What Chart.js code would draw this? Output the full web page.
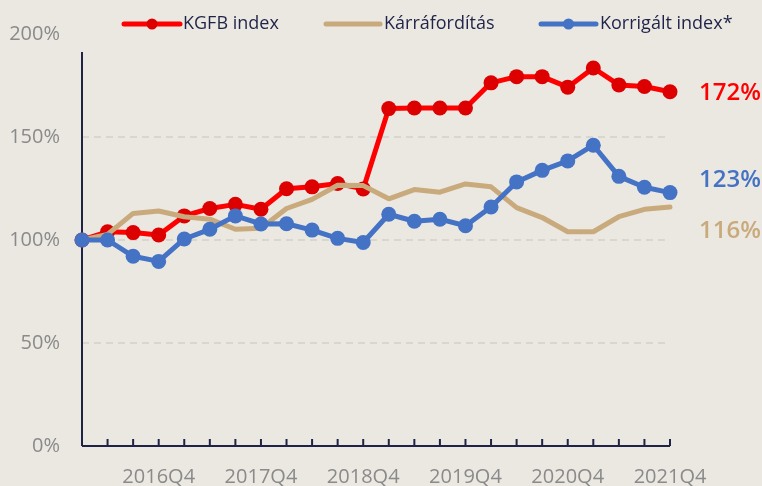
<!DOCTYPE html>
<html>
<head>
<meta charset="utf-8">
<script src="https://cdn.jsdelivr.net/npm/chart.js@4.4.1/dist/chart.umd.min.js"></script>
<style>
  html, body { margin: 0; padding: 0; background: #ebe8e2; }
  #wrap { width: 762px; height: 486px; }
</style>
</head>
<body>
<div id="wrap"><canvas id="chart" width="762" height="486"></canvas></div>
<script>
// quarters on the x axis
const quarters = [
    '2016Q1', '2016Q2', '2016Q3', '2016Q4',
    '2017Q1', '2017Q2', '2017Q3', '2017Q4',
    '2018Q1', '2018Q2', '2018Q3', '2018Q4',
    '2019Q1', '2019Q2', '2019Q3', '2019Q4',
    '2020Q1', '2020Q2', '2020Q3', '2020Q4',
    '2021Q1', '2021Q2', '2021Q3', '2021Q4'
];

// series values, in percent
const kgfbIndex = [100, 104, 103.6, 102.4, 111.7, 115.3, 117.3, 114.9, 124.9, 125.8, 127.4, 124.8,
                   163.8, 164.1, 164.1, 164.1, 176.3, 179.3, 179.3, 174.2, 183.5, 175.3, 174.5, 172];
const karraforditas = [100, 102.7, 112.9, 114.1, 111.3, 110.1, 105.2, 105.7, 115.3, 119.7, 126.6, 126.4,
                       120, 124.5, 123.2, 127.2, 125.8, 115.7, 110.9, 104, 104, 111.3, 114.9, 116];
const korrigaltIndex = [100, 100, 92.1, 89.6, 100.5, 105.2, 111.7, 107.8, 107.9, 104.8, 100.8, 98.8,
                        112.5, 109.1, 110.1, 106.9, 116, 128.2, 133.8, 138.4, 146, 130.9, 125.6, 123];

// y axis ticks
const yTicks = [0, 50, 100, 150, 200];
// which x labels are shown
const shownQuarters = ['2016Q4', '2017Q4', '2018Q4', '2019Q4', '2020Q4', '2021Q4'];

const RED = '#ff0000';
const RED_DOT = '#dc0000';
const TAN = '#c9aa7c';
const BLUE = '#4472c4';
const NAVY = '#1f2348';
const GRAY = '#8a8a8a';
const FONT = "'Open Sans', sans-serif";

// axis lines and inward tick marks
const axisPlugin = {
    id: 'axisLines',
    beforeDatasetsDraw(chart) {
        const { ctx, chartArea, scales } = chart;
        ctx.save();
        ctx.strokeStyle = NAVY;
        ctx.lineWidth = 2;
        ctx.beginPath();
        ctx.moveTo(chartArea.left, chartArea.bottom);
        ctx.lineTo(chartArea.left, chartArea.top + 18);
        ctx.moveTo(chartArea.left, chartArea.bottom);
        ctx.lineTo(chartArea.right, chartArea.bottom);
        quarters.forEach((q, i) => {
            const x = scales.x.getPixelForValue(i);
            ctx.moveTo(x, chartArea.bottom);
            ctx.lineTo(x, chartArea.bottom - 7);
        });
        ctx.stroke();
        ctx.restore();
    }
};

// legend with line + dot samples, and the end-value labels
const labelPlugin = {
    id: 'labels',
    afterDraw(chart) {
        const { ctx, chartArea, scales } = chart;
        ctx.save();
        ctx.lineCap = 'round';

        const items = [
            { text: 'KGFB index', color: RED, dot: RED_DOT, x0: 124, x1: 180, tx: 183 },
            { text: 'Kárráfordítás', color: TAN, dot: null, x0: 326, x1: 380, tx: 384 },
            { text: 'Korrigált index*', color: BLUE, dot: BLUE, x0: 541, x1: 596, tx: 600 }
        ];
        ctx.font = '18px ' + FONT;
        ctx.textBaseline = 'middle';
        items.forEach(it => {
            const y = 24;
            ctx.strokeStyle = it.color;
            ctx.lineWidth = 5;
            ctx.beginPath();
            ctx.moveTo(it.x0, y);
            ctx.lineTo(it.x1, y);
            ctx.stroke();
            if (it.dot) {
                ctx.fillStyle = it.dot;
                ctx.beginPath();
                ctx.arc((it.x0 + it.x1) / 2, y, 5.5, 0, Math.PI * 2);
                ctx.fill();
            }
            ctx.fillStyle = NAVY;
            ctx.fillText(it.text, it.tx, y);
        });

        // last values at the right
        const ends = [
            { data: kgfbIndex, color: RED, dy: 1 },
            { data: korrigaltIndex, color: BLUE, dy: -12 },
            { data: karraforditas, color: TAN, dy: 24 }
        ];
        ctx.font = '600 24px ' + FONT;
        ends.forEach(e => {
            const v = e.data[e.data.length - 1];
            const y = scales.y.getPixelForValue(v) + e.dy;
            ctx.fillStyle = e.color;
            ctx.fillText(Math.round(v) + '%', chartArea.right + 29, y);
        });
        ctx.restore();
    }
};

new Chart(document.getElementById('chart'), {
    type: 'line',
    data: {
        labels: quarters,
        datasets: [
            {
                label: 'KGFB index',
                data: kgfbIndex,
                borderColor: RED,
                backgroundColor: RED_DOT,
                pointBackgroundColor: RED_DOT,
                pointBorderWidth: 0,
                pointRadius: 7.5,
                borderWidth: 5,
                order: 3
            },
            {
                label: 'Kárráfordítás',
                data: karraforditas,
                borderColor: TAN,
                pointRadius: 0,
                borderWidth: 5,
                order: 2
            },
            {
                label: 'Korrigált index*',
                data: korrigaltIndex,
                borderColor: BLUE,
                backgroundColor: BLUE,
                pointBackgroundColor: BLUE,
                pointBorderWidth: 0,
                pointRadius: 7.5,
                borderWidth: 5,
                order: 1
            }
        ]
    },
    options: {
        responsive: false,
        animation: false,
        clip: false,
        layout: { padding: { top: 27, right: 92, left: 0, bottom: 0 } },
        elements: {
            line: { tension: 0, borderJoinStyle: 'round', borderCapStyle: 'round' }
        },
        plugins: {
            legend: { display: false },
            tooltip: { enabled: false }
        },
        scales: {
            x: {
                offset: false,
                grid: { display: false, drawTicks: false },
                border: { display: false },
                afterFit(scale) { scale.height = 40; },
                ticks: {
                    autoSkip: false,
                    maxRotation: 0,
                    padding: 19,
                    color: GRAY,
                    font: { family: FONT, size: 20 },
                    callback(v, i) {
                        return shownQuarters.includes(quarters[i]) ? quarters[i] : '';
                    }
                }
            },
            y: {
                min: yTicks[0],
                max: yTicks[yTicks.length - 1],
                afterFit(scale) { scale.width = 82; },
                afterBuildTicks(scale) { scale.ticks = yTicks.map(v => ({ value: v })); },
                grid: {
                    drawTicks: false,
                    lineWidth: 2,
                    color: ctx => (ctx.tick && ctx.tick.value > 0 && ctx.tick.value < 200) ? '#d9d6d0' : 'rgba(0,0,0,0)'
                },
                border: { display: false, dash: [7, 5] },
                ticks: {
                    padding: 22,
                    color: GRAY,
                    font: { family: FONT, size: 20 },
                    callback: v => v + '%'
                }
            }
        }
    },
    plugins: [axisPlugin, labelPlugin]
});
</script>
</body>
</html>
